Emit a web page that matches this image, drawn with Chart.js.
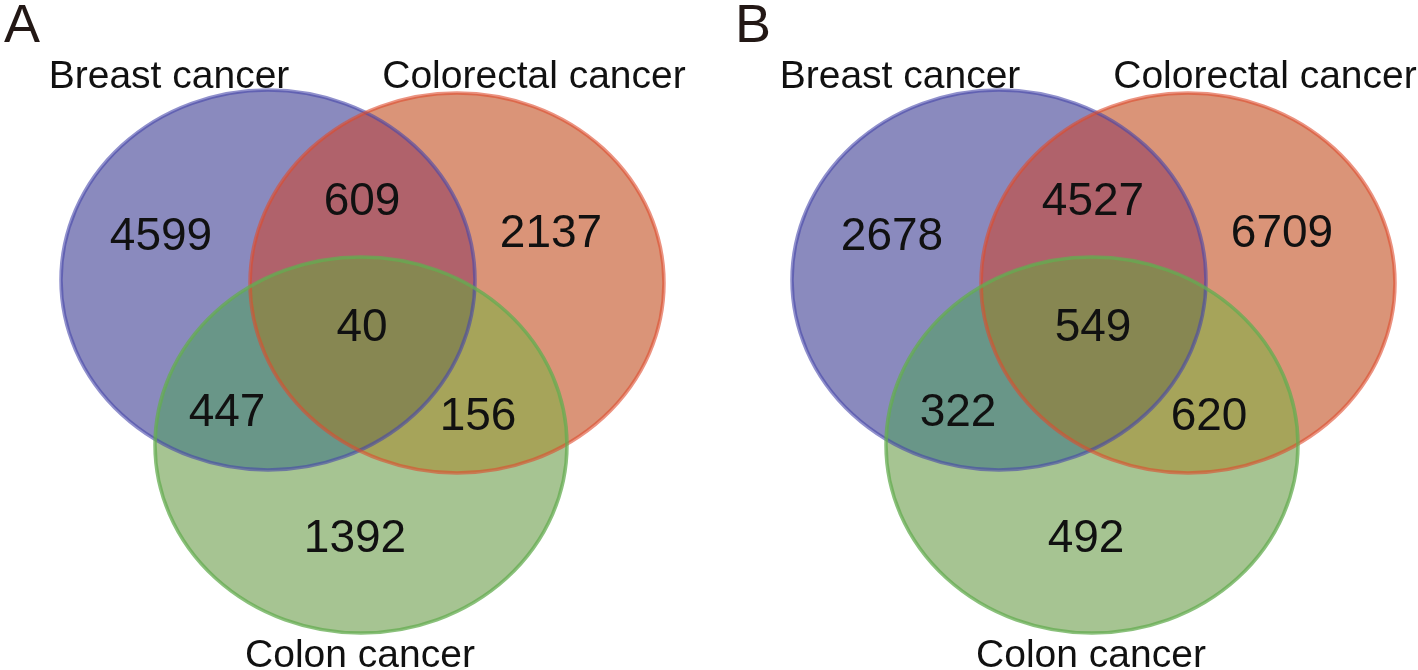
<!DOCTYPE html>
<html>
<head>
<meta charset="utf-8">
<title>Venn diagrams</title>
<script src="https://cdn.jsdelivr.net/npm/chart.js@4/dist/chart.umd.min.js"></script>
<style>
    html, body { margin: 0; padding: 0; background: #fff; }
    #wrap { width: 1418px; height: 670px; position: relative; }
</style>
</head>
<body>
<div id="wrap"><canvas id="venn"></canvas></div>
<script>
// ---- data ----
const panels = ['A', 'B'];
const setNames = ['Breast cancer', 'Colorectal cancer', 'Colon cancer'];
const regions = ['Breast only', 'Colorectal only', 'Colon only',
    'Breast & Colorectal', 'Breast & Colon', 'Colorectal & Colon', 'All three'];
const countsA = [4599, 2137, 1392, 609, 447, 156, 40];
const countsB = [2678, 6709, 492, 4527, 322, 620, 549];

// ---- layout (panel A units, panel B shifted right) ----
const panelShift = [0, 731];
const ellipses = [
    { cx: 268, cy: 280, rx: 207, ry: 190 },   // breast
    { cx: 457, cy: 283, rx: 207, ry: 190 },   // colorectal
    { cx: 361, cy: 445, rx: 206, ry: 188 }    // colon
];
const regionPos = [[161, 237], [551, 234], [355, 539], [362, 202], [227, 413], [478, 417], [362, 328]];
const setLabelPos = [[169, 88], [534, 88], [360, 667]];
const letterPos = [4, 42];

// colours
const setFill = ['#8a8abe', '#da9478', '#a6c492'];
const setBorder = ['rgba(70,70,170,0.6)', 'rgba(222,75,45,0.6)', 'rgba(100,172,80,0.75)'];
const pairFill = { '01': '#b0626b', '02': '#699688', '12': '#a6a45a' };
const tripleFill = '#878752';

const countsByPanel = [countsA, countsB];

const datasets = panels.map((p, pi) => ({
    label: p,
    data: regions.map((r, i) => ({
        x: regionPos[i][0] + panelShift[pi],
        y: regionPos[i][1],
        v: countsByPanel[pi][i]
    })),
    pointRadius: 0,
    pointHoverRadius: 0
}));

const vennPlugin = {
    id: 'venn',
    beforeDatasetsDraw(chart) {
        const { ctx, scales: { x, y } } = chart;

        const path = (e, shift) => {
            const cx = x.getPixelForValue(e.cx + shift);
            const cy = y.getPixelForValue(e.cy);
            const rx = Math.abs(x.getPixelForValue(e.cx + e.rx + shift) - cx);
            const ry = Math.abs(y.getPixelForValue(e.cy + e.ry) - cy);
            ctx.beginPath();
            ctx.ellipse(cx, cy, rx, ry, 0, 0, Math.PI * 2);
        };

        panelShift.forEach(shift => {
            // single sets
            ellipses.forEach((e, i) => {
                path(e, shift);
                ctx.fillStyle = setFill[i];
                ctx.fill();
            });
            // pair overlaps
            Object.keys(pairFill).forEach(k => {
                const a = ellipses[+k[0]], b = ellipses[+k[1]];
                ctx.save();
                path(a, shift); ctx.clip();
                path(b, shift);
                ctx.fillStyle = pairFill[k];
                ctx.fill();
                ctx.restore();
            });
            // centre
            ctx.save();
            path(ellipses[0], shift); ctx.clip();
            path(ellipses[1], shift); ctx.clip();
            path(ellipses[2], shift);
            ctx.fillStyle = tripleFill;
            ctx.fill();
            ctx.restore();
            // outlines
            ellipses.forEach((e, i) => {
                path(e, shift);
                ctx.lineWidth = 3.5;
                ctx.strokeStyle = setBorder[i];
                ctx.stroke();
            });
        });
    },
    afterDatasetsDraw(chart) {
        const { ctx, scales: { x, y } } = chart;
        ctx.save();
        ctx.fillStyle = '#111';
        ctx.textAlign = 'center';

        // region counts, placed at the points the scales computed
        ctx.font = '46px "Liberation Sans", Arial, sans-serif';
        ctx.textBaseline = 'middle';
        chart.data.datasets.forEach((ds, di) => {
            const meta = chart.getDatasetMeta(di);
            meta.data.forEach((pt, i) => {
                ctx.fillText(String(ds.data[i].v), pt.x, pt.y);
            });
        });

        // set names
        ctx.font = '39px "Liberation Sans", Arial, sans-serif';
        ctx.textBaseline = 'alphabetic';
        panelShift.forEach(shift => {
            setNames.forEach((n, i) => {
                ctx.fillText(n, x.getPixelForValue(setLabelPos[i][0] + shift), y.getPixelForValue(setLabelPos[i][1]));
            });
        });

        // panel letters
        ctx.font = '54px "Liberation Sans", Arial, sans-serif';
        ctx.fillStyle = '#231815';
        ctx.textAlign = 'left';
        panels.forEach((p, pi) => {
            ctx.fillText(p, x.getPixelForValue(letterPos[0] + panelShift[pi]), y.getPixelForValue(letterPos[1]));
        });
        ctx.restore();
    }
};

new Chart(document.getElementById('venn'), {
    type: 'scatter',
    data: { datasets },
    options: {
        responsive: true,
        maintainAspectRatio: false,
        animation: false,
        layout: { padding: 0 },
        plugins: {
            legend: { display: false },
            tooltip: { enabled: false }
        },
        scales: {
            x: { type: 'linear', min: 0, max: 1418, display: false },
            y: { type: 'linear', min: 0, max: 670, reverse: true, display: false }
        }
    },
    plugins: [vennPlugin]
});
</script>
</body>
</html>
